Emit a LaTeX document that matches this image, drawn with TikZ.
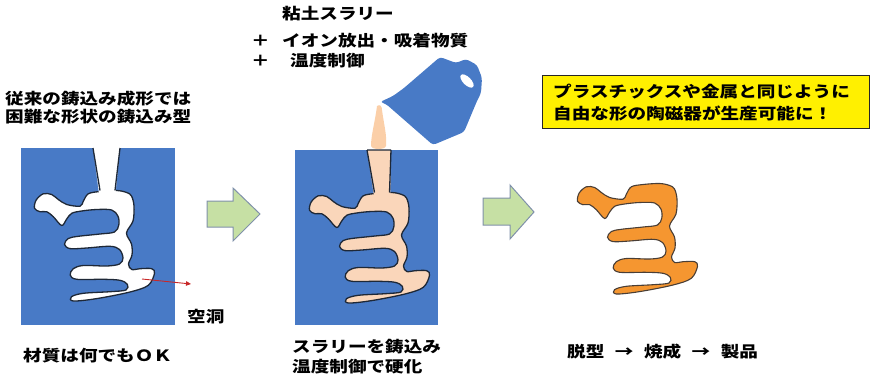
\documentclass[tikz,border=0pt]{standalone}
\usepackage{fontspec}
\newfontfamily\jp{Noto Sans CJK JP}[FakeStretch=1.2]
\usetikzlibrary{arrows.meta}
\definecolor{moldblue}{RGB}{72,122,198}
\definecolor{slurry}{RGB}{250,214,186}
\definecolor{ceramic}{RGB}{245,150,48}
\definecolor{edge}{RGB}{30,40,55}
\definecolor{arrowfill}{RGB}{198,224,164}
\definecolor{arrowedge}{RGB}{128,145,170}
\definecolor{note}{RGB}{255,240,0}
\definecolor{pointer}{RGB}{200,40,40}

% the cavity / part outline, drawn in local coordinates
\tikzset{
  tres/.pic={
    \path[pic actions] plot[smooth cycle, tension=0.55] coordinates {
      (100,191.5) (88.3,193.8) (83.3,201.2) (80,206.2) (66.7,204.5) (58.3,199.5)
      (51.7,194.5) (43.3,193.8) (36.2,200) (34.5,208.3) (40,211.7) (46.7,211.7)
      (53.3,216.7) (61.7,225.5) (66.7,219) (71.7,213.3) (81.7,211) (96.7,209.5)
      (111.7,210) (118,216.2) (118.8,225) (114.5,232) (100,234)
      (78.3,236.3) (68.3,238.5) (64.5,244.3) (70,248.6) (86.7,248) (110,246.3)
      (119.5,249.5) (123,258) (119.5,264) (106.7,266) (83.3,265.5) (73.3,268.7)
      (70.2,275) (76.7,279.3) (103.3,279.3) (120,280.3) (127.3,284.3) (126,290)
      (110,291.7) (83.3,293.3) (71.5,296.7) (73.3,301) (96.7,298.6)
      (130,292) (148.3,285.3) (154.5,273.3) (151.7,268.7) (140,268.7) (131.7,269.5)
      (128.5,264) (132,255) (131.5,244) (126.5,233) (133,221) (134,206)
      (131.5,196) (126.7,192.5) (116.7,190.5)
    };
  }
}

\begin{document}
\begin{tikzpicture}[x=1pt,y=-1pt,
  txt/.style={anchor=base west, inner sep=0pt,
    font=\jp\bfseries\fontsize{15.5}{18}\selectfont},
  mold/.style={fill=moldblue},
  outline/.style={draw=edge, line width=1.3pt},
  blockarrow/.style={fill=arrowfill, draw=arrowedge, line width=1pt, line join=miter}]
\useasboundingbox (0,0) rectangle (872,380);

% ---------- stage 1: empty mould ----------
\fill[mold] (21,148) rectangle (175,325);
\pic[fill=white, outline] at (0,0) {tres};
\fill[white] (93,147.5) -- (120,147.5) -- (115.3,196) -- (99.3,196) -- cycle;
\draw[outline] (93,148) -- (100,190.5) (120,148) -- (115,190.5);

\node[txt] (head1) at (5,104) {従来の鋳込み成形では};
\node[txt] (head2) at (5,122) {困難な形状の鋳込み型};
\node[txt] (cav) at (187,322) {空洞};
\node[txt] (any) at (23,361) {材質は何でもＯＫ};
\coordinate (cavin) at (142,279);
\coordinate (cavtip) at (191,284);
\draw[pointer, line width=0.9pt, -{Triangle[length=5pt,width=4.5pt]}] (cavin) -- (cavtip);

% ---------- arrow 1 ----------
\path[blockarrow] (207,201) -- (233,201) -- (233,188) -- (260,214) -- (233,241)
  -- (233,227) -- (207,227) -- cycle;

% ---------- stage 2: slurry cast ----------
\fill[mold] (295,150) rectangle (438,325);
\pic[fill=slurry, outline] at (275,2) {tres};
\fill[slurry] (367,150) -- (391,150) -- (390.3,198) -- (374.3,198) -- cycle;
\draw[outline] (367,150) -- (391,150) (367,150) -- (374.5,192.5) (391,150) -- (389.5,192.5);

% slurry stream from the jug
\fill[slurry!85!orange!90!white] (377,106) .. controls (380,104) and (382,106) .. (382,110)
  .. controls (384,125) and (387,135) .. (386,146)
  .. controls (385,150) and (372,150) .. (371,146)
  .. controls (371,135) and (375,122) .. (377,106) -- cycle;

% jug, tilted for pouring
\fill[moldblue, rounded corners=3pt] (380,102) -- (393,96) -- (404,88) -- (440,57)
  -- (456,63) -- (466,59) -- (477,65) -- (482,78) -- (481,93) -- (477,101)
  -- (464,132) -- (433,145) -- (386,104) -- cycle;
\fill[white, rotate around={-45:(467,81)}] (467,81) ellipse (8.5pt and 4pt);

\node[txt] (clay) at (282,19) {粘土スラリー};
\node[txt] (plus1) at (251,46) {＋};
\node[txt] (ion) at (282,46) {イオン放出・吸着物質};
\node[txt] (plus2) at (251,66) {＋};
\node[txt] (temp) at (290,66) {温度制御};
\node[txt] (cast1) at (292,352) {スラリーを鋳込み};
\node[txt] (cast2) at (292,372) {温度制御で硬化};

% ---------- arrow 2 ----------
\path[blockarrow] (483,198) -- (510,198) -- (510,185) -- (534,212) -- (510,239)
  -- (510,225) -- (483,225) -- cycle;

% ---------- stage 3: finished part ----------
\pic[fill=ceramic, draw=edge!80!ceramic, line width=1.1pt] at (543,-7) {tres};
\node[txt] (steps) at (567,357) {脱型\hspace{10.5pt}→\hspace{10.5pt}焼成\hspace{10.5pt}→\hspace{10.5pt}製品};

% ---------- note box ----------
\node[draw=black!85, line width=0.9pt, fill=note, minimum width=327pt,
  minimum height=53pt, anchor=north west, inner sep=0pt] (notebox) at (542,75) {};
\node[txt] (note1) at (553,97) {プラスチックスや金属と同じように};
\node[txt] (note2) at (553,119) {自由な形の陶磁器が生産可能に！};
\end{tikzpicture}
\end{document}
